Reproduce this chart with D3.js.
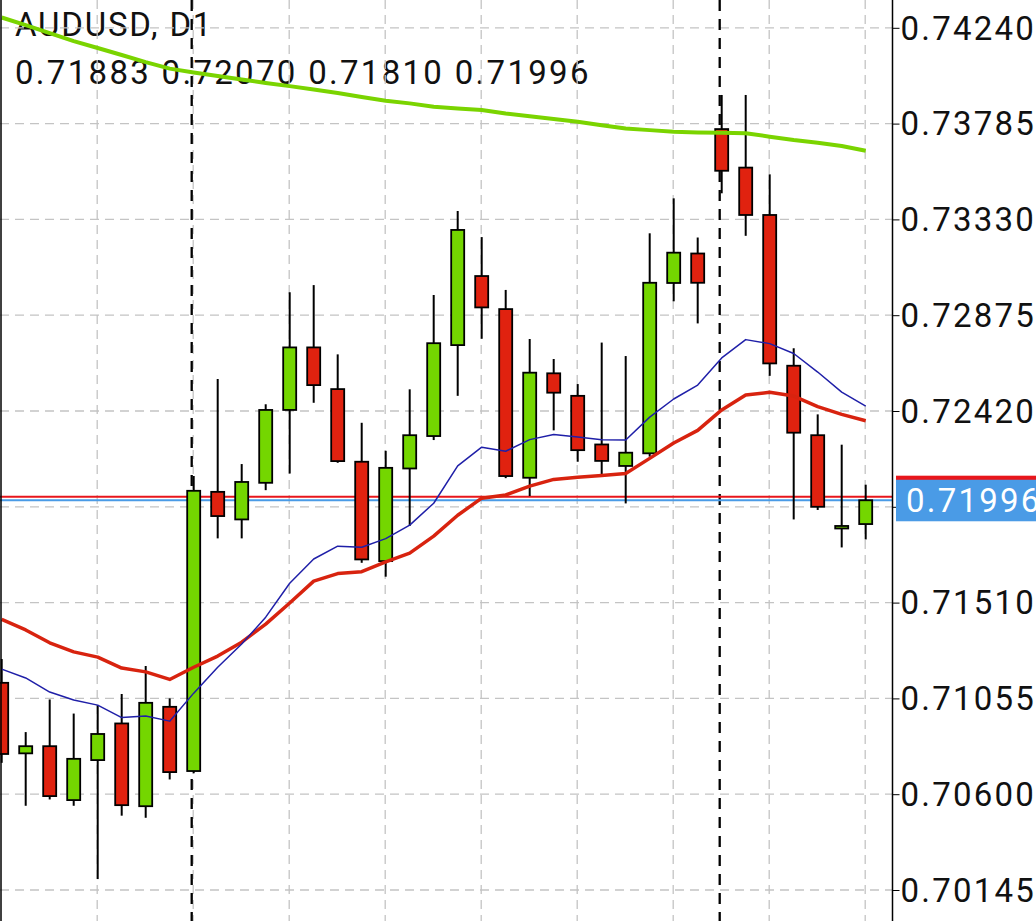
<!DOCTYPE html>
<html><head><meta charset="utf-8">
<script src="https://cdn.jsdelivr.net/npm/d3@7/dist/d3.min.js"></script>
<style>
body{margin:0;background:#fff}
svg{display:block}
text{font-family:Roboto,"Noto Sans",sans-serif}
</style>
</head><body>
<svg id="chart" width="1036" height="921"></svg>
<script>
// ---------- data ----------
const symbolTitle = "AUDUSD, D1";
const categories = [0,1,2,3,4,5,6,7,8,9,10,11,12,13,14,15,16,17,18,19,20,21,22,23,24,25,26,27,28,29,30,31,32,33,34,35,36];
const opens  = [0.71129,0.70794,0.70828,0.70572,0.70762,0.70936,0.70543,0.71015,0.70710,0.72036,0.71905,0.72079,0.72425,0.72722,0.72524,0.72179,0.71707,0.72147,0.72301,0.72733,0.73061,0.72904,0.72103,0.72599,0.72492,0.72261,0.72159,0.72219,0.73028,0.73168,0.73759,0.73576,0.73351,0.72635,0.72305,0.71862,0.71883];
const highs  = [0.71242,0.70895,0.71050,0.70983,0.71023,0.71076,0.71209,0.71055,0.72111,0.72572,0.72168,0.72452,0.72984,0.73018,0.72689,0.72364,0.72231,0.72523,0.72971,0.73370,0.73246,0.72995,0.72762,0.72667,0.72548,0.72745,0.72681,0.73264,0.73430,0.73244,0.73921,0.73921,0.73544,0.72718,0.72404,0.72260,0.72070];
const lows   = [0.70749,0.70545,0.70575,0.70545,0.70197,0.70498,0.70488,0.70670,0.70700,0.71815,0.71815,0.72044,0.72123,0.72459,0.72174,0.71699,0.71633,0.71874,0.72282,0.72492,0.72763,0.72101,0.72016,0.72328,0.72179,0.72120,0.71981,0.72203,0.72941,0.72836,0.73454,0.73252,0.72587,0.71905,0.71950,0.71772,0.71810];
const closes = [0.70791,0.70828,0.70591,0.70768,0.70886,0.70548,0.71034,0.70705,0.72041,0.71921,0.72083,0.72425,0.72722,0.72543,0.72182,0.71715,0.72150,0.72305,0.72742,0.73280,0.72912,0.72111,0.72602,0.72507,0.72234,0.72183,0.72222,0.73029,0.73172,0.73029,0.73561,0.73351,0.72646,0.72317,0.71965,0.71874,0.71996];
const maFast = [0.71194,0.71152,0.71085,0.71047,0.71023,0.70964,0.70971,0.70947,0.71080,0.71203,0.71313,0.71441,0.71602,0.71717,0.71778,0.71773,0.71814,0.71878,0.71982,0.72159,0.72248,0.72229,0.72284,0.72308,0.72296,0.72284,0.72282,0.72391,0.72477,0.72543,0.72672,0.72759,0.72740,0.72693,0.72605,0.72510,0.72443];
const maMid  = [0.71430,0.71380,0.71319,0.71276,0.71251,0.71199,0.71181,0.71145,0.71203,0.71256,0.71322,0.71408,0.71508,0.71612,0.71648,0.71657,0.71703,0.71745,0.71826,0.71925,0.72006,0.72021,0.72063,0.72095,0.72105,0.72114,0.72123,0.72195,0.72268,0.72328,0.72425,0.72496,0.72509,0.72491,0.72441,0.72404,0.72374];
const maSlow = [0.74289,0.74253,0.74215,0.74177,0.74144,0.74111,0.74077,0.74046,0.74028,0.74011,0.73994,0.73978,0.73963,0.73947,0.73930,0.73911,0.73894,0.73881,0.73865,0.73857,0.73850,0.73833,0.73820,0.73807,0.73794,0.73777,0.73762,0.73754,0.73746,0.73743,0.73741,0.73739,0.73723,0.73707,0.73694,0.73679,0.73656];
const yTicks = [0.70145,0.70600,0.71055,0.71510,0.71965,0.72420,0.72875,0.73330,0.73785,0.74240];
const hiddenTickLabels = [0.71965]; // covered by the bid label in the reference
const periodSeparators = [8,30];
const bidPrice = 0.71996;
const askPrice = 0.72013;
const ohlcLabel = "0.71883 0.72070 0.71810 0.71996";

// ---------- drawing ----------
const W = 1036, H = 921, plotRight = 892.5;
const svg = d3.select("#chart");
svg.append("rect").attr("width",W).attr("height",H).attr("fill","#fff");

const x = d3.scaleLinear().domain([0,36]).range([1.7,865.7]);
const y = d3.scaleLinear().domain([0.70145,0.74240]).range([890,27.8]);

const fontSize = 33;
// header text
svg.append("text").attr("x",15).attr("y",36).attr("font-size",fontSize)
  .attr("letter-spacing","1.8px").attr("fill","#111").text(symbolTitle);
svg.append("text").attr("x",15).attr("y",83.5).attr("font-size",fontSize)
  .attr("letter-spacing","2.3px").attr("fill","#111").text(ohlcLabel);

// grid
const grid = svg.append("g");
grid.selectAll("line.h").data(yTicks).join("line").attr("class","h")
  .attr("x1",0).attr("x2",plotRight).attr("y1",d=>y(d)).attr("y2",d=>y(d))
  .attr("stroke","#c4c4c4").attr("stroke-width",1.3).attr("stroke-dasharray","9,6");
grid.selectAll("line.v").data(categories.filter(c=>c%4===0 && c>0)).join("line").attr("class","v")
  .attr("x1",d=>x(d)-0.5).attr("x2",d=>x(d)-0.5).attr("y1",0).attr("y2",H)
  .attr("stroke","#c4c4c4").attr("stroke-width",1.3).attr("stroke-dasharray","9,6");

// period separators
svg.selectAll("line.sep").data(periodSeparators).join("line").attr("class","sep")
  .attr("x1",d=>x(d)-2).attr("x2",d=>x(d)-2).attr("y1",0).attr("y2",H)
  .attr("stroke","#000").attr("stroke-width",2.3).attr("stroke-dasharray","11,8");

// price lines
svg.append("line").attr("x1",0).attr("x2",plotRight).attr("y1",y(askPrice)).attr("y2",y(askPrice))
  .attr("stroke","#e8161b").attr("stroke-width",2);
svg.append("line").attr("x1",0).attr("x2",plotRight).attr("y1",y(bidPrice)).attr("y2",y(bidPrice))
  .attr("stroke","#4a9be6").attr("stroke-width",2);

// candles
const candles = categories.map((c,i)=>({i:c,o:opens[i],h:highs[i],l:lows[i],c:closes[i]}));
const cg = svg.append("g");
cg.selectAll("line.wick").data(candles).join("line").attr("class","wick")
  .attr("x1",d=>x(d.i)).attr("x2",d=>x(d.i)).attr("y1",d=>y(d.h)).attr("y2",d=>y(d.l))
  .attr("stroke","#000").attr("stroke-width",2);
const bodyW = 13;
cg.selectAll("rect.body").data(candles).join("rect").attr("class","body")
  .attr("x",d=>x(d.i)-bodyW/2).attr("width",bodyW)
  .attr("y",d=>y(Math.max(d.o,d.c)))
  .attr("height",d=>Math.max(1,Math.abs(y(d.o)-y(d.c))))
  .attr("fill",d=>d.c>=d.o?"#74d600":"#e0220f")
  .attr("stroke","#000").attr("stroke-width",1.8);

// moving averages
const line = d3.line().x((d,i)=>x(categories[i])).y(d=>y(d));
svg.append("path").datum(maSlow).attr("d",line).attr("fill","none")
  .attr("stroke","#7ad400").attr("stroke-width",4).attr("stroke-linejoin","round");
svg.append("path").datum(maMid).attr("d",line).attr("fill","none")
  .attr("stroke","#d8230f").attr("stroke-width",3.5).attr("stroke-linejoin","round");
svg.append("path").datum(maFast).attr("d",line).attr("fill","none")
  .attr("stroke","#1f1fa8").attr("stroke-width",1.5).attr("stroke-linejoin","round");

// left border
svg.append("line").attr("x1",1).attr("x2",1).attr("y1",0).attr("y2",H)
  .attr("stroke","#000").attr("stroke-width",1.5);

// right axis
const fmt = d3.format(".5f");
const axis = d3.axisRight(y).tickValues(yTicks)
  .tickFormat(d=>hiddenTickLabels.includes(d)?"":fmt(d))
  .tickSize(7).tickPadding(1);
const ag = svg.append("g").attr("transform",`translate(${plotRight},0)`).call(axis);
ag.select(".domain").attr("d",`M0,0V${H}`).attr("stroke","#000").attr("stroke-width",1.5);
ag.selectAll(".tick line").attr("stroke","#000").attr("stroke-width",1);
ag.selectAll(".tick text").attr("font-size",fontSize).attr("font-family","Roboto,sans-serif")
  .attr("fill","#111").attr("letter-spacing","2.2px").attr("dy","0.34em");

// price labels
svg.append("rect").attr("x",896).attr("width",W-896).attr("y",y(askPrice)-21).attr("height",42)
  .attr("fill","#e8161b");
svg.append("rect").attr("x",896).attr("width",W-896).attr("y",y(bidPrice)-20.5).attr("height",41.5)
  .attr("fill","#4a9be6");
svg.append("text").attr("x",906).attr("y",y(bidPrice)+11.5).attr("font-size",fontSize)
  .attr("letter-spacing","2.2px").attr("fill","#fff").text(fmt(bidPrice));
</script>
</body></html>
